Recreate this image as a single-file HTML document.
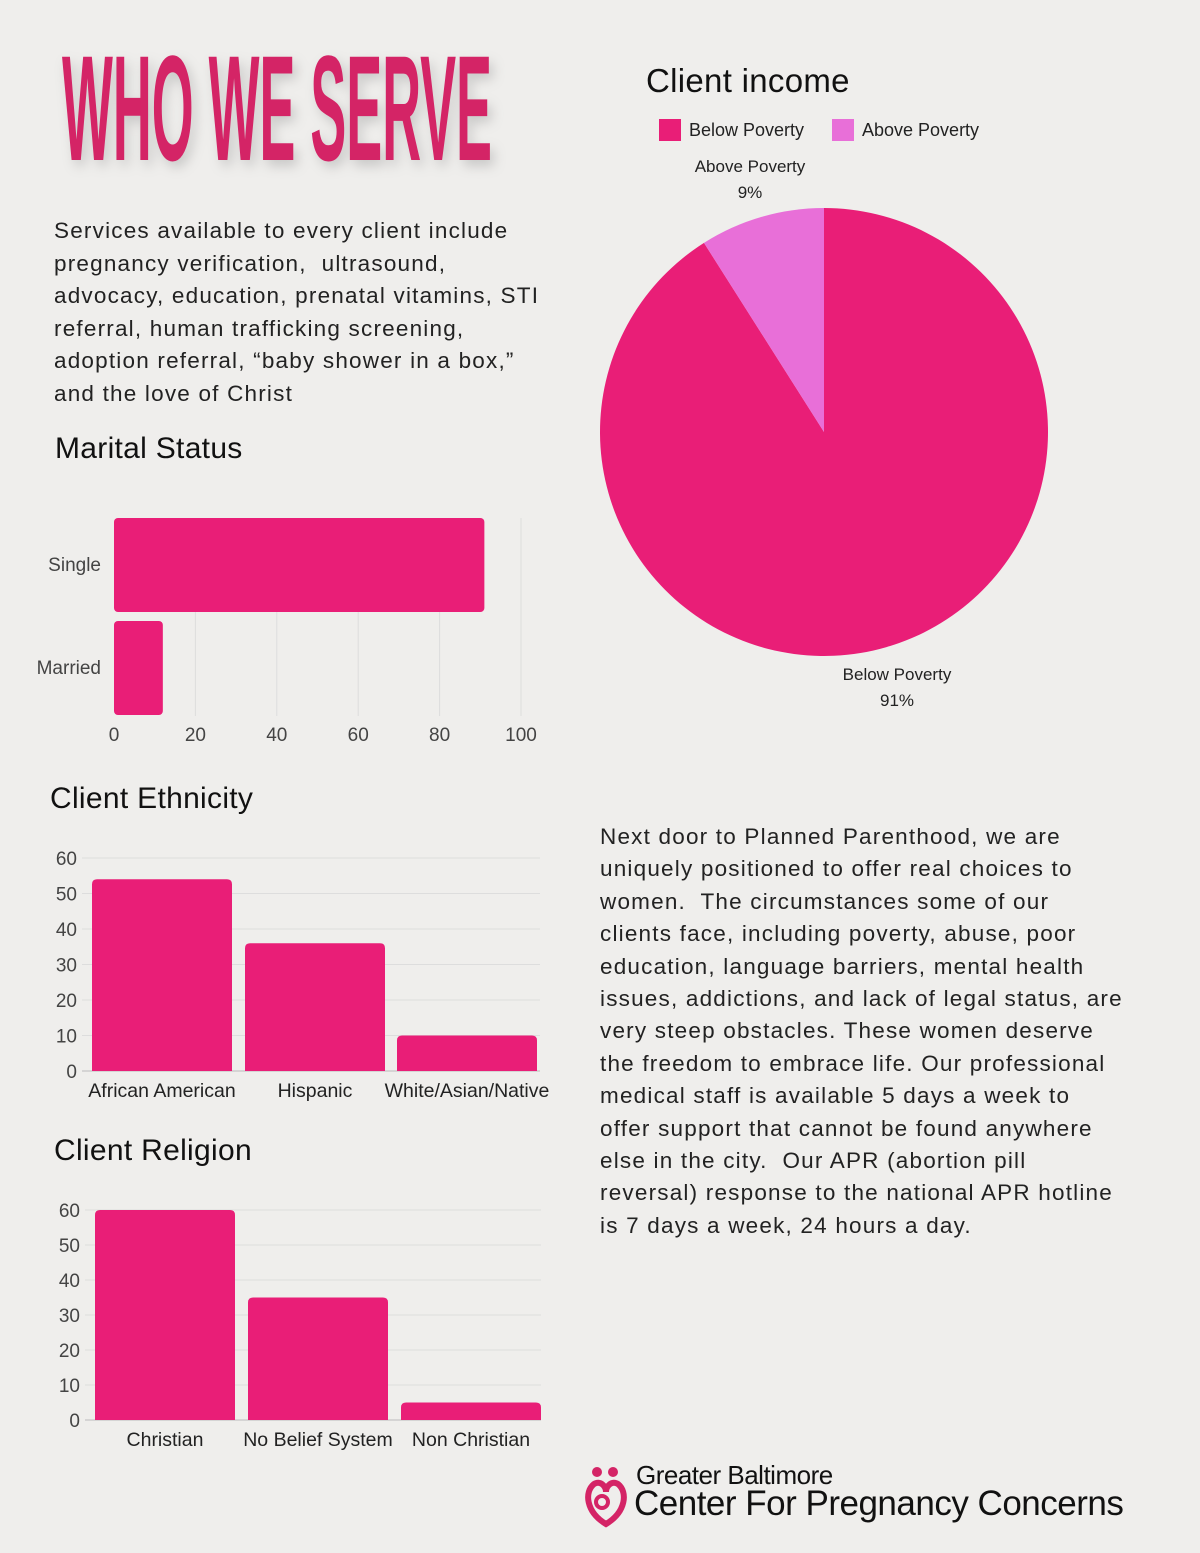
<!DOCTYPE html>
<html><head><meta charset="utf-8"><style>
body{margin:0;background:#efeeec;font-family:"Liberation Sans",sans-serif;}
#page{position:relative;width:1200px;height:1553px;overflow:hidden;background:#efeeec;}
.txt{position:absolute;font-size:22.5px;line-height:32.5px;color:#222;letter-spacing:1.2px;white-space:nowrap;}
.h{position:absolute;font-size:30px;color:#111;letter-spacing:0.3px;}
svg text{font-family:"Liberation Sans",sans-serif;}
</style></head><body>
<div id="page">
<svg style="position:absolute;left:0;top:0" width="1200" height="200">
<defs><filter id="sh" x="-10%" y="-20%" width="120%" height="150%"><feGaussianBlur stdDeviation="6"/></filter></defs>
<text x="66" y="166" font-size="150" font-weight="bold" textLength="430" lengthAdjust="spacingAndGlyphs" fill="#999" opacity="0.45" filter="url(#sh)">WHO WE SERVE</text>
<text x="62" y="160" font-size="150" font-weight="bold" textLength="430" lengthAdjust="spacingAndGlyphs" fill="#d42466">WHO WE SERVE</text>
</svg>
<div class="txt" style="left:54px;top:215px">Services available to every client include<br>pregnancy verification,&nbsp; ultrasound,<br>advocacy, education, prenatal vitamins, STI<br>referral, human trafficking screening,<br>adoption referral, “baby shower in a box,”<br>and the love of Christ</div>
<div class="h" style="left:55px;top:432px">Marital Status</div>
<div class="h" style="left:50px;top:782px">Client Ethnicity</div>
<div class="h" style="left:54px;top:1134px">Client Religion</div>
<div class="h" style="left:646px;top:62px;font-size:33px">Client income</div>
<div class="txt" style="left:600px;top:821px;line-height:32.4px">Next door to Planned Parenthood, we are<br>uniquely positioned to offer real choices to<br>women.&nbsp; The circumstances some of our<br>clients face, including poverty, abuse, poor<br>education, language barriers, mental health<br>issues, addictions, and lack of legal status, are<br>very steep obstacles. These women deserve<br>the freedom to embrace life. Our professional<br>medical staff is available 5 days a week to<br>offer support that cannot be found anywhere<br>else in the city.&nbsp; Our APR (abortion pill<br>reversal) response to the national APR hotline<br>is 7 days a week, 24 hours a day.</div>
<svg id="charts" style="position:absolute;left:0;top:0" width="1200" height="1553"></svg>
<svg style="position:absolute;left:582px;top:1462px" width="50" height="70">
<circle cx="15" cy="10" r="5" fill="#d42466"/><circle cx="31" cy="10" r="5" fill="#d42466"/>
<path d="M24 62 C4 50 2 30 12 22 C18 18 24 24 24 30 C24 24 30 18 36 22 C46 30 44 50 24 62Z" fill="none" stroke="#d42466" stroke-width="6"/>
<circle cx="20" cy="40" r="6" fill="none" stroke="#d42466" stroke-width="4"/>
</svg>
<div style="position:absolute;left:636px;top:1460px;font-size:26px;color:#111;letter-spacing:-0.5px">Greater Baltimore</div>
<div style="position:absolute;left:634px;top:1484px;font-size:35px;color:#111;letter-spacing:-0.5px">Center For Pregnancy Concerns</div>
</div>
<script>
const maritalCats=["Single","Married"];
const maritalVals=[91,12];
const maritalTicks=[0,20,40,60,80,100];
const ethCats=["African American","Hispanic","White/Asian/Native"];
const ethVals=[54,36,10];
const ethTicks=[0,10,20,30,40,50,60];
const relCats=["Christian","No Belief System","Non Christian"];
const relVals=[60,35,5];
const relTicks=[0,10,20,30,40,50,60];
const incomeCats=["Below Poverty","Above Poverty"];
const incomeVals=[91,9];
const PINK="#e91e77",LPINK="#e86fd8";
const svg=document.getElementById('charts');
const NS="http://www.w3.org/2000/svg";
function mk(t,a,txt){const e=document.createElementNS(NS,t);for(const k in a)e.setAttribute(k,a[k]);if(txt!==undefined)e.textContent=txt;svg.appendChild(e);return e;}
const mx=v=>114+v*4.07;
maritalTicks.forEach(t=>{
 if(t>0){const g=mk('line',{x1:mx(t),x2:mx(t),y1:518,y2:716,stroke:'#ddd'});
 
 }
 const l=mk('text',{x:mx(t),y:741,'font-size':19,'text-anchor':'middle',fill:'#444'},t);
 
 
});
maritalCats.forEach((c,i)=>{
 const y=518+i*103;
 const b=mk('rect',{x:114,y:y,width:mx(maritalVals[i])-114,height:94,rx:4,fill:PINK});
 
 
 const l=mk('text',{x:101,y:y+53,'font-size':19,'text-anchor':'end',fill:'#444'},c);
 
 
});
function vbar(cats,vals,ticks,y0,pxu,x0s,labelY,gx1,gx2,tickX,prefix){
 ticks.forEach(t=>{
  const y=y0-t*pxu;
  const g=mk('line',{x1:gx1,x2:gx2,y1:y,y2:y,stroke:t===0?'#bbb':'#ddd'});
  
  
  const l=mk('text',{x:tickX,y:y+7,'font-size':19,'text-anchor':'end',fill:'#444'},t);
  
  
 });
 cats.forEach((c,i)=>{
  const h=vals[i]*pxu;
  const b=mk('path',{d:`M${x0s[i]} ${y0} V${y0-h+5} Q${x0s[i]} ${y0-h} ${x0s[i]+5} ${y0-h} H${x0s[i]+135} Q${x0s[i]+140} ${y0-h} ${x0s[i]+140} ${y0-h+5} V${y0} Z`,fill:PINK});
  
  
  const l=mk('text',{x:x0s[i]+70,y:labelY,'font-size':19.5,'text-anchor':'middle',fill:'#222'},c);
  
  
 });
}
vbar(ethCats,ethVals,ethTicks,1071,3.55,[92,245,397],1097,82,540,77,'ethnicity');
vbar(relCats,relVals,relTicks,1420,3.5,[95,248,401],1446,85,541,80,'religion');
const cx=824,cy=432,r=224;
let start=0;const total=incomeVals.reduce((a,b)=>a+b,0);
const pt=f=>[cx+r*Math.sin(2*Math.PI*f),cy-r*Math.cos(2*Math.PI*f)];
[0,1].forEach(i=>{
 const f=incomeVals[i]/total;
 const a=pt(start),b=pt(start+f);
 const s=mk('path',{d:`M${cx} ${cy} L${a[0]} ${a[1]} A${r} ${r} 0 ${f>0.5?1:0} 1 ${b[0]} ${b[1]} Z`,fill:i===0?PINK:LPINK});
 
 
 start+=f;
});
const lab=[[897,680,incomeCats[0],incomeVals[0]],[750,172,incomeCats[1],incomeVals[1]]];
lab.forEach(d=>{
 const t=mk('text',{x:d[0],y:d[1],'font-size':17,'text-anchor':'middle',fill:'#222'},d[2]);
 
 
 const p=mk('text',{x:d[0],y:d[1]+26,'font-size':17,'text-anchor':'middle',fill:'#222'},d[3]+'%');
 
 
});
[[659,PINK,incomeCats[0]],[832,LPINK,incomeCats[1]]].forEach(d=>{
 const r1=mk('rect',{x:d[0],y:119,width:22,height:22,fill:d[1]});
 
 
 const t=mk('text',{x:d[0]+30,y:136,'font-size':18,fill:'#222'},d[2]);
 
 
});
</script>
</body></html>
